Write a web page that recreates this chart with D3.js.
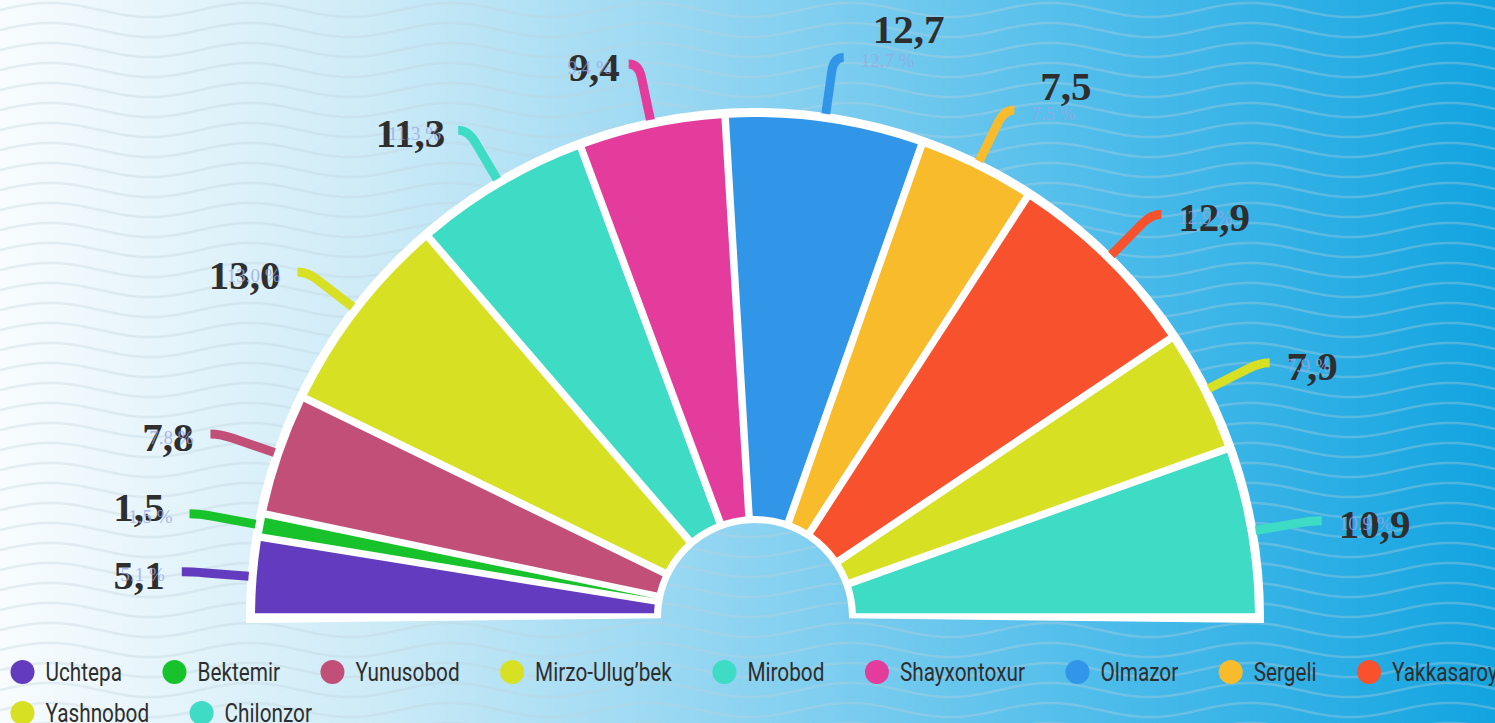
<!DOCTYPE html>
<html>
<head>
<meta charset="utf-8">
<script src="https://cdn.jsdelivr.net/npm/d3@7"></script>
<style>
  body { margin: 0; overflow: hidden; }
  svg { display: block; }
</style>
</head>
<body>
<div id="chart"></div>
<script>
// districts and their share, in %
const districts = ['Uchtepa', 'Bektemir', 'Yunusobod', 'Mirzo-Ulug’bek', 'Mirobod', 'Shayxontoxur',
    'Olmazor', 'Sergeli', 'Yakkasaroy', 'Yashnobod', 'Chilonzor'];
const shares = [5.1, 1.5, 7.8, 13.0, 11.3, 9.4, 12.7, 7.5, 12.9, 7.9, 10.9];
const sliceColors = ['#623bbf', '#18c22b', '#c14f78', '#d7e022', '#3fdcc5', '#e43c9c',
    '#3195e8', '#f7bb2c', '#f7512d', '#d7e022', '#3fdcc5'];

const W = 1495, H = 723;
const cx = 755, cy = 617;
const rInner = 101, rOuter = 500;

// labels that the original layout pushed away a bit
const labelNudge = {
    'Olmazor': [12, -32],
    'Sergeli': [9, -27],
    'Bektemir': [-8, -10],
    'Shayxontoxur': [8, 0],
    'Mirobod': [4, 0]
};

const svg = d3.select('#chart').append('svg')
    .attr('width', W)
    .attr('height', H);

// background
const grad = svg.append('defs').append('linearGradient')
    .attr('id', 'bg')
    .attr('x1', 0).attr('x2', 1).attr('y1', 0).attr('y2', 0);
[[0, '#f8fcfe'], [0.25, '#cdebf7'], [0.5, '#8cd3f1'], [0.75, '#4abbea'], [1, '#12a4e0']]
    .forEach(s => grad.append('stop').attr('offset', s[0]).attr('stop-color', s[1]));

svg.append('rect')
    .attr('width', W)
    .attr('height', H)
    .attr('fill', 'url(#bg)');

// wavy lines
const waveLine = d3.line();
const waves = svg.append('g')
    .attr('fill', 'none')
    .attr('stroke', 'rgb(190,208,220)')
    .attr('stroke-opacity', 0.33)
    .attr('stroke-width', 2.5);
for (let y0 = -10; y0 < H + 20; y0 += 20) {
    const pts = [];
    for (let x = -10; x <= W + 10; x += 5) {
        pts.push([x, y0 - 7 * Math.cos(2 * Math.PI * (x - 50) / 200)]);
    }
    waves.append('path').attr('d', waveLine(pts));
}

const g = svg.append('g').attr('transform', `translate(${cx},${cy})`);

const pie = d3.pie()
    .sort(null)
    .value(d => d)
    .startAngle(-Math.PI / 2)
    .endAngle(Math.PI / 2);
const arcs = pie(shares);

const arc = d3.arc()
    .innerRadius(rInner)
    .outerRadius(rOuter)
    .padAngle(0.015)
    .padRadius(rOuter);

// white base under the slices
g.append('path')
    .attr('d', d3.arc().innerRadius(94).outerRadius(509)({
        startAngle: -Math.PI / 2 - 0.012,
        endAngle: Math.PI / 2 + 0.012
    }))
    .attr('fill', 'white');

function polar(a, r) {
    return [r * Math.sin(a), -r * Math.cos(a)];
}

// leader lines
const labelData = arcs.map((d, i) => {
    const mid = (d.startAngle + d.endAngle) / 2;
    const side = Math.sin(mid) >= 0 ? 1 : -1;
    const p0 = polar(mid, 508);
    const pb = polar(mid, 551);
    const p1 = polar(mid, 565);
    const end = [p1[0] + side * 10, p1[1]];
    return { i, side, p0, pb, p1, end };
});

g.selectAll('.leader')
    .data(labelData)
    .join('path')
    .attr('class', 'leader')
    .attr('d', d => `M${d.p0}L${d.pb}Q${d.p1} ${d.end}`)
    .attr('fill', 'none')
    .attr('stroke', d => sliceColors[d.i])
    .attr('stroke-width', 9);

g.selectAll('.slice')
    .data(arcs)
    .join('path')
    .attr('class', 'slice')
    .attr('d', arc)
    .attr('fill', (d, i) => sliceColors[i]);

// big value labels
g.selectAll('.val')
    .data(labelData)
    .join('text')
    .attr('class', 'val')
    .attr('x', d => d.end[0] + d.side * 17 + (labelNudge[districts[d.i]] || [0, 0])[0])
    .attr('y', d => d.end[1] + 17 + (labelNudge[districts[d.i]] || [0, 0])[1])
    .attr('text-anchor', d => d.side > 0 ? 'start' : 'end')
    .text(d => shares[d.i].toFixed(1).replace('.', ','))
    .attr('fill', '#2e2e2e')
    .attr('font-size', 41)
    .style('font-weight', 'bold')
    .style('font-family', '"Liberation Serif", "Times New Roman", serif');

// faint percent labels
g.selectAll('.pct')
    .data(labelData)
    .join('text')
    .attr('class', 'pct')
    .attr('x', d => d.end[0] + d.side * 17)
    .attr('y', d => d.end[1] + 3)
    .attr('dominant-baseline', 'central')
    .attr('text-anchor', d => d.side > 0 ? 'start' : 'end')
    .text(d => shares[d.i].toFixed(1) + ' %')
    .attr('fill', '#9aa6e6')
    .attr('fill-opacity', 0.8)
    .attr('font-size', 19)
    .style('font-family', '"Liberation Serif", "Times New Roman", serif');

// legend
const perRow = 9;
const squeeze = 0.83;
const legend = svg.append('g');
let lx = 10.5;
districts.forEach((name, i) => {
    if (i === perRow) lx = 10.5;
    const ly = 672 + Math.floor(i / perRow) * 41;
    const item = legend.append('g').attr('transform', `translate(${lx},${ly})`);
    item.append('circle')
        .attr('cx', 12)
        .attr('cy', 0)
        .attr('r', 12)
        .attr('fill', sliceColors[i]);
    const t = item.append('text')
        .attr('transform', `translate(35,9) scale(${squeeze},1)`)
        .text(name)
        .attr('fill', '#2e2e2e')
        .attr('font-size', 25)
        .style('font-family', 'Roboto, sans-serif');
    lx += 35 + t.node().getComputedTextLength() * squeeze + 40.5;
});
</script>
</body>
</html>
